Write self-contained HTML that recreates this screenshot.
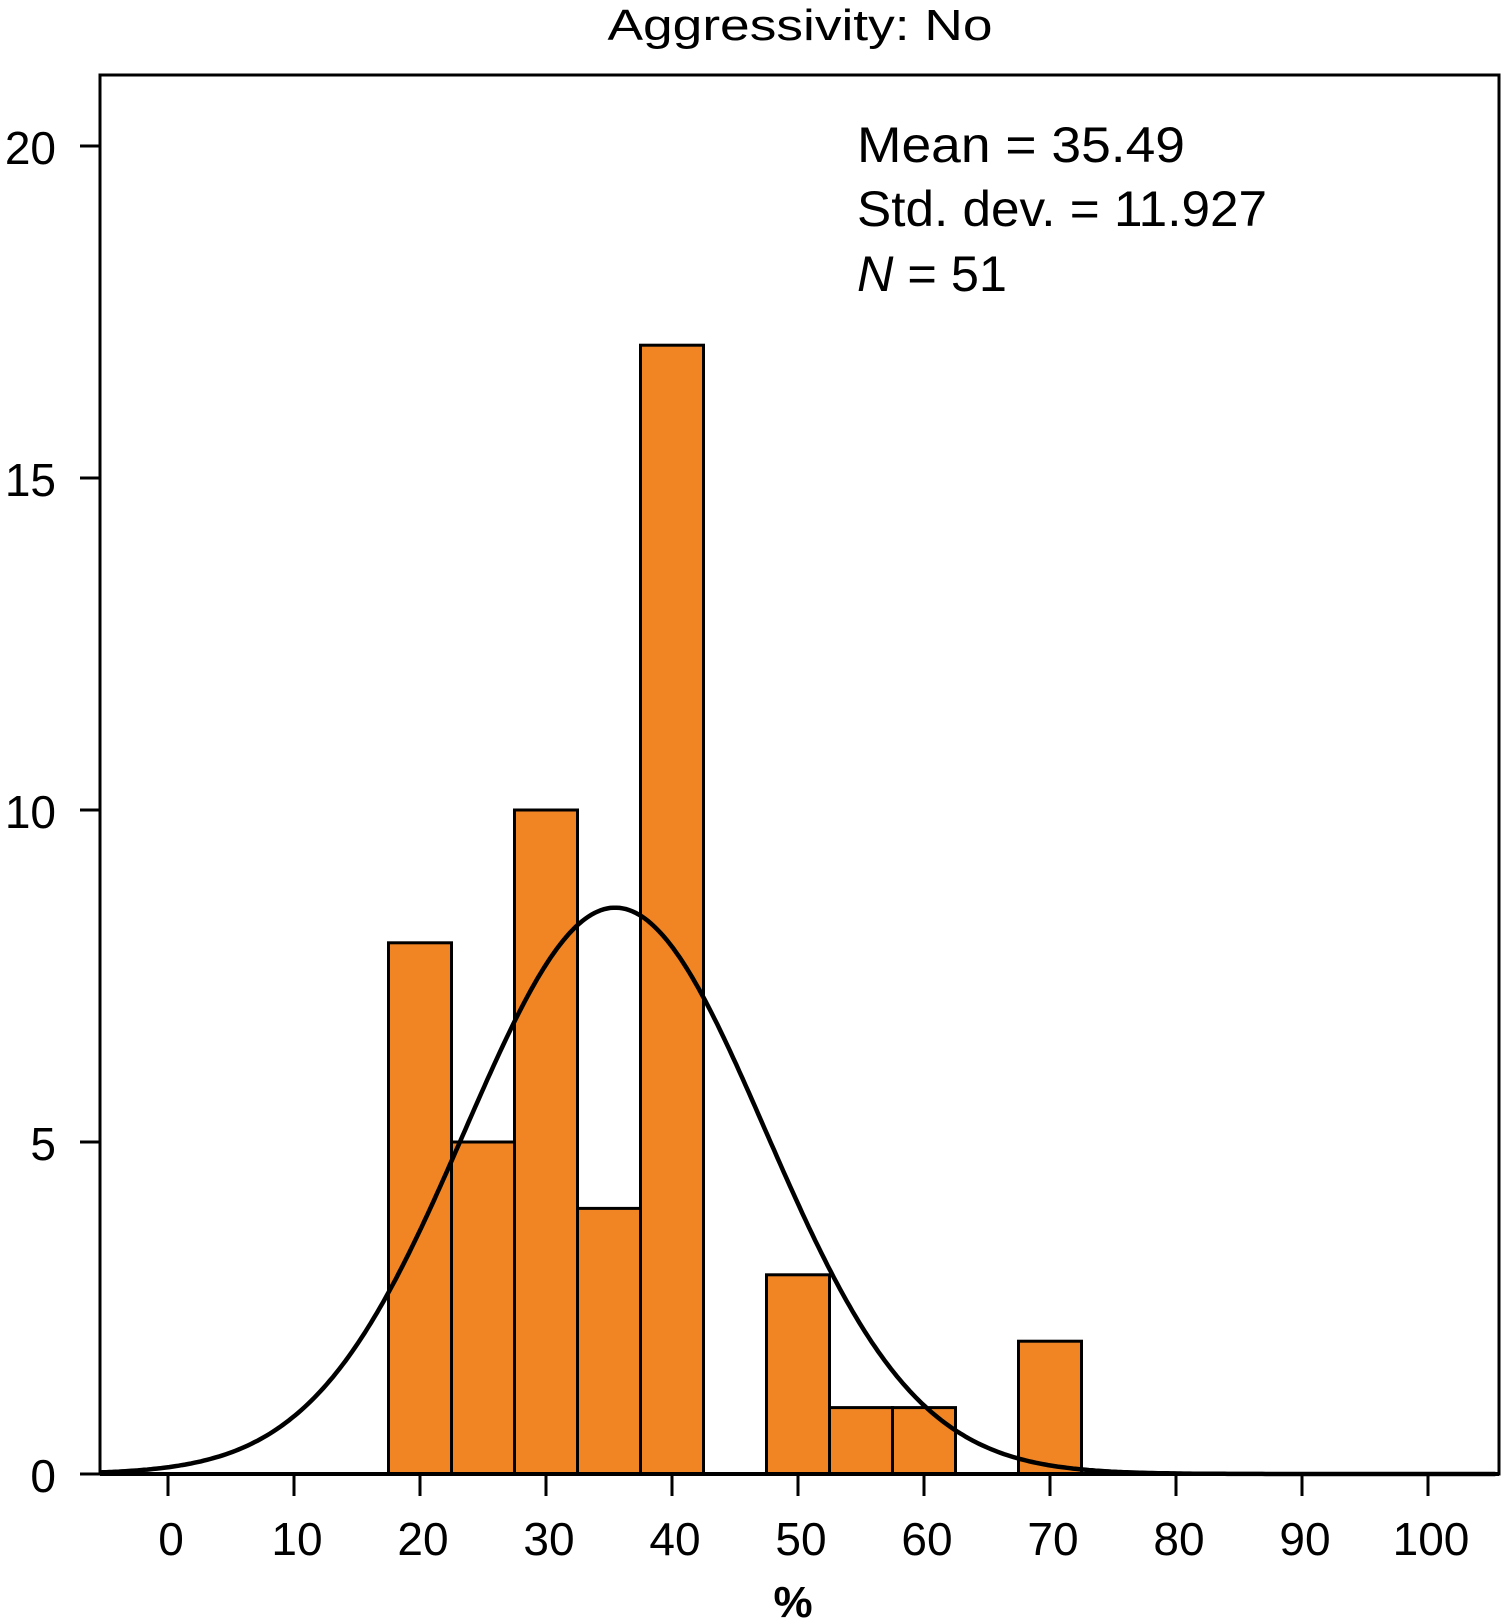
<!DOCTYPE html>
<html><head><meta charset="utf-8"><style>
html,body{margin:0;padding:0;background:#fff;}
svg{display:block;font-family:"Liberation Sans",sans-serif;}
</style></head><body>
<svg id="chart" width="1501" height="1620" viewBox="0 0 1501 1620" xmlns="http://www.w3.org/2000/svg">
<text x="800" y="40" font-size="44" text-anchor="middle" textLength="385" lengthAdjust="spacingAndGlyphs">Aggressivity: No</text>
<rect x="100" y="75" width="1399" height="1399" fill="none" stroke="#000" stroke-width="3"/>
<g id="bars"></g>
<path id="curve" fill="none" stroke="#000" stroke-width="4.5"/>
<g id="axes"></g>
<g font-size="50">
<text x="857" y="162" textLength="328" lengthAdjust="spacingAndGlyphs">Mean = 35.49</text>
<text x="857" y="226" textLength="410" lengthAdjust="spacingAndGlyphs">Std. dev. = 11.927</text>
<text x="857" y="291" textLength="150" lengthAdjust="spacingAndGlyphs"><tspan font-style="italic">N</tspan> = 51</text>
</g>
<text x="793" y="1617" font-size="44" font-weight="bold" text-anchor="middle">%</text>
</svg>
<script>
const binStarts = [17.5,22.5,27.5,32.5,37.5,42.5,47.5,52.5,57.5,62.5,67.5];
const counts = [8,5,10,4,17,0,3,1,1,0,2];
const binWidth = 5;
const xTicks = [0,10,20,30,40,50,60,70,80,90,100];
const yTicks = [0,5,10,15,20];
const mean = 35.49, sd = 11.927, n = 51;
const xMin = -5.4, xMax = 105.5;

const X = v => 168 + 12.6 * v;
const Y = v => 1474 - 66.4 * v;
const NS = "http://www.w3.org/2000/svg";
const bars = document.getElementById('bars');
binStarts.forEach((s,i)=>{
  if(!counts[i]) return;
  const r=document.createElementNS(NS,'rect');
  
  
  r.setAttribute('x',X(s)); r.setAttribute('width',X(s+binWidth)-X(s));
  r.setAttribute('y',Y(counts[i])); r.setAttribute('height',Y(0)-Y(counts[i]));
  r.setAttribute('fill','#f28523'); r.setAttribute('stroke','#000'); r.setAttribute('stroke-width','3');
  bars.appendChild(r);
});
let d='';
for(let v=xMin; v<=xMax; v+=0.25){
  const y = n*binWidth/(sd*Math.sqrt(2*Math.PI))*Math.exp(-0.5*((v-mean)/sd)**2);
  d += (d?'L':'M')+X(v).toFixed(1)+','+Y(y).toFixed(1);
}
document.getElementById('curve').setAttribute('d',d);
const axes=document.getElementById('axes');
const base=document.createElementNS(NS,'line');


base.setAttribute('x1',100);base.setAttribute('x2',1499);base.setAttribute('y1',1474);base.setAttribute('y2',1474);
base.setAttribute('stroke','#000');base.setAttribute('stroke-width','4');
axes.appendChild(base);
xTicks.forEach(t=>{
  const l=document.createElementNS(NS,'line');
  
  
  l.setAttribute('x1',X(t));l.setAttribute('x2',X(t));l.setAttribute('y1',1474);l.setAttribute('y2',1496);
  l.setAttribute('stroke','#000');l.setAttribute('stroke-width','3');
  axes.appendChild(l);
  const tx=document.createElementNS(NS,'text');
  
  
  tx.setAttribute('x',X(t)+3);tx.setAttribute('y',1555);tx.setAttribute('font-size','46');tx.setAttribute('text-anchor','middle');
  tx.textContent=t; axes.appendChild(tx);
});
yTicks.forEach(t=>{
  const l=document.createElementNS(NS,'line');
  
  
  l.setAttribute('x1',80);l.setAttribute('x2',100);l.setAttribute('y1',Y(t));l.setAttribute('y2',Y(t));
  l.setAttribute('stroke','#000');l.setAttribute('stroke-width','3');
  axes.appendChild(l);
  const tx=document.createElementNS(NS,'text');
  
  
  tx.setAttribute('x',56);tx.setAttribute('y',Y(t)+18);tx.setAttribute('font-size','46');tx.setAttribute('text-anchor','end');
  tx.textContent=t; axes.appendChild(tx);
});
</script>
</body></html>
